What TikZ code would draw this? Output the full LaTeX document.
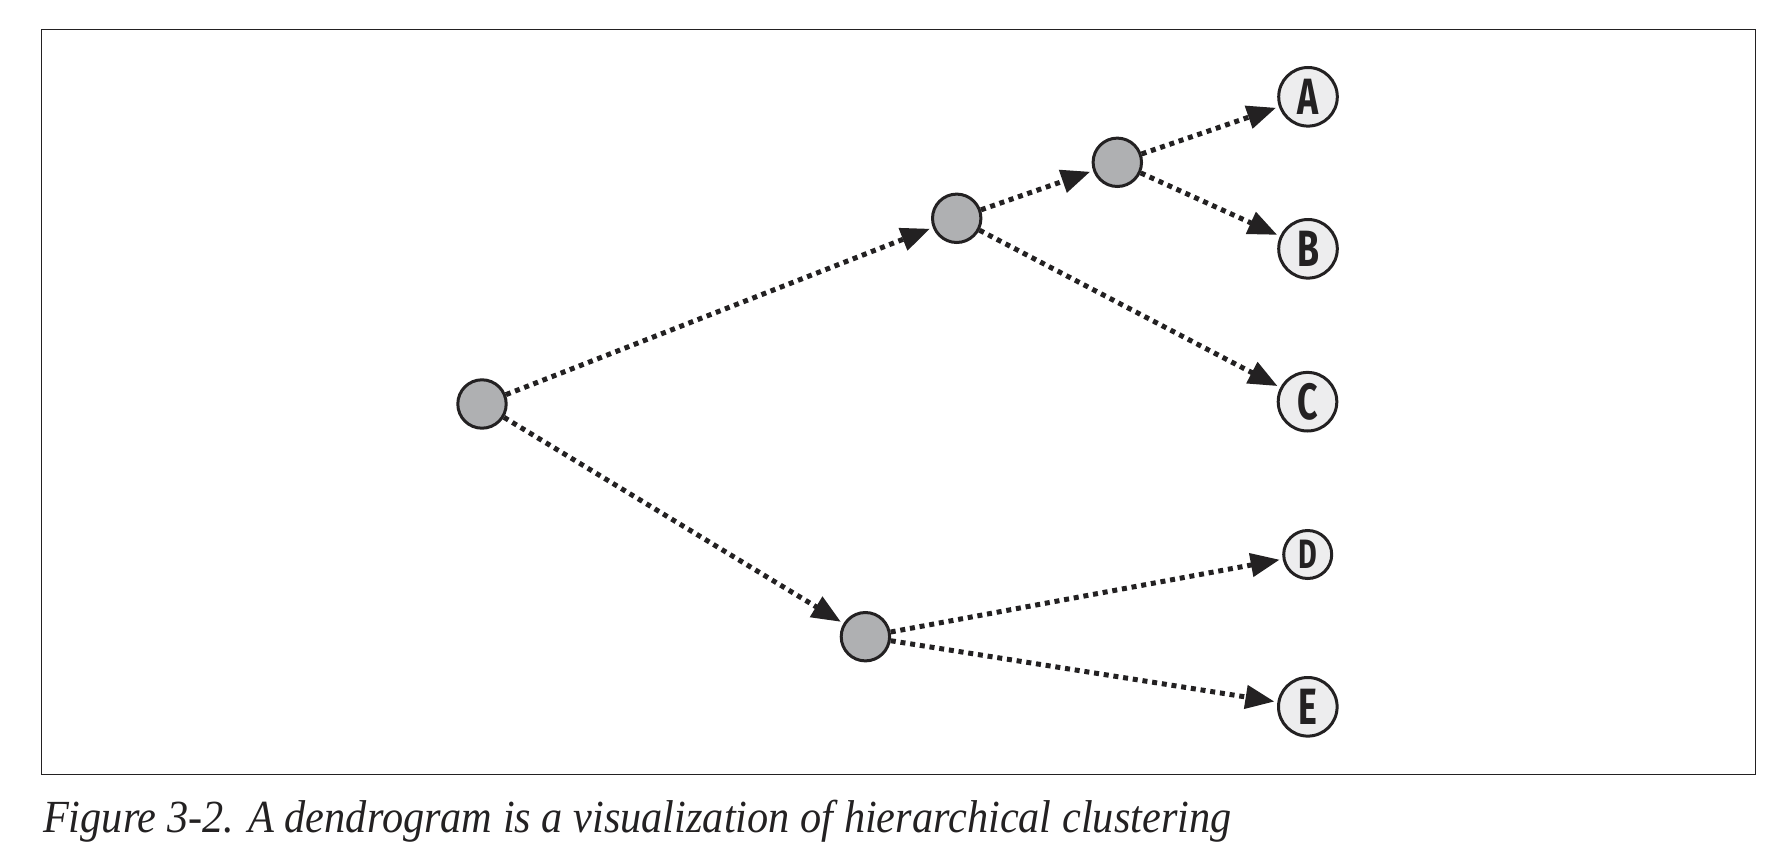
\documentclass[tikz,border=0pt]{standalone}
\usepackage{fontspec}
\usetikzlibrary{arrows.meta}
\newfontfamily\leaffont[FakeStretch=0.7]{Fira Sans}
\newfontfamily\captionfont[FakeStretch=0.92]{Liberation Serif}
\definecolor{inkdark}{RGB}{35,33,34}
\definecolor{innergray}{RGB}{175,176,178}
\definecolor{leafgray}{RGB}{237,237,238}

\begin{document}
\begin{tikzpicture}[x=0.5pt,y=-0.5pt,
  inner/.style={circle,draw=inkdark,line width=1.5pt,fill=innergray,inner sep=0pt,minimum size=24.2pt},
  leaf/.style={circle,draw=inkdark,line width=1.5pt,fill=leafgray,inner sep=0pt,minimum size=29.3pt,
    text=inkdark,font=\leaffont\bfseries\fontsize{25.5}{25.5}\selectfont},
  smallleaf/.style={leaf,minimum size=24pt,font=\leaffont\bfseries\fontsize{20.5}{20.5}\selectfont},
  link/.style={draw=inkdark,line width=2.5pt,dash pattern=on 2.5pt off 2.4pt,
    -{Triangle[length=14.5pt,width=11.5pt]},shorten >=1.5pt}]
\useasboundingbox (0,0) rectangle (1782,856);
\draw [inkdark,line width=0.8pt] (41.5,29.5) rectangle (1755.5,774.5);

% inner nodes of the tree
\node [inner] (root) at (482,404) {};
\node [inner] (upper) at (956.7,218.3) {};
\node [inner] (pair) at (1117.3,162.3) {};
\node [inner] (lower) at (865.4,636.7) {};

% clusters
\node [leaf] (A) at (1308,96.8) {A};
\node [leaf] (B) at (1308,248.8) {B};
\node [leaf] (C) at (1307.5,401.7) {C};
\node [smallleaf] (D) at (1307.7,554.5) {D};
\node [leaf] (E) at (1307.8,706.8) {E};

\draw [link] (root) -- (upper);
\draw [link] (root) -- (lower);
\draw [link] (upper) -- (pair);
\draw [link] (upper) -- (C);
\draw [link] (pair) -- (A);
\draw [link] (pair) -- (B);
\draw [link] (lower) -- (D);
\draw [link] (lower) -- (E);

\node [anchor=base west,inner sep=0pt,text=inkdark,font=\captionfont\itshape\fontsize{23}{23}\selectfont] (caption) at (42.7,832.7)
  {Figure 3-2. A dendrogram is a visualization of hierarchical clustering};
\end{tikzpicture}
\end{document}
